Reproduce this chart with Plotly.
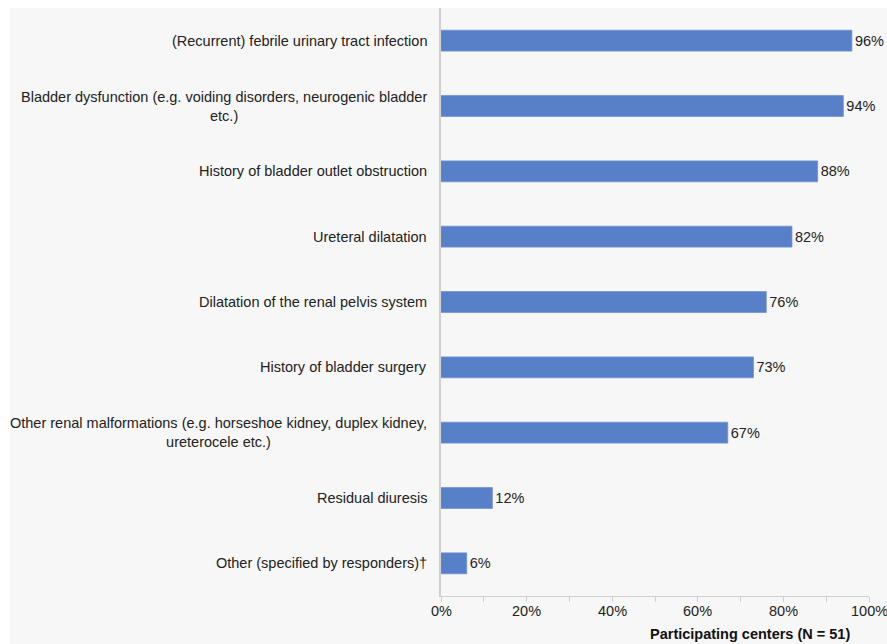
import plotly.graph_objects as go

categories = [
    "(Recurrent) febrile urinary tract infection",
    "Bladder dysfunction (e.g. voiding disorders, neurogenic bladder<br>etc.)",
    "History of bladder outlet obstruction",
    "Ureteral dilatation",
    "Dilatation of the renal pelvis system",
    "History of bladder surgery",
    "Other renal malformations (e.g. horseshoe kidney, duplex kidney,<br>ureterocele etc.)",
    "Residual diuresis",
    "Other (specified by responders)†",
]
values = [0.96, 0.94, 0.88, 0.82, 0.76, 0.73, 0.67, 0.12, 0.06]
value_labels = ["96%", "94%", "88%", "82%", "76%", "73%", "67%", "12%", "6%"]
tick_vals = [0, 0.2, 0.4, 0.6, 0.8, 1.0]
tick_text = ["0%", "20%", "40%", "60%", "80%", "100%"]
axis_title = "Participating centers (N = 51)"

W, H = 887, 644
L, R, T, B = 441, 18, 8, 48
pw, ph = W - L - R, H - T - B
FONT = "Liberation Sans, Arial"
FS = 14.5

fig = go.Figure()
fig.add_trace(go.Bar(
    y=categories[::-1], x=values[::-1], orientation="h",
    marker=dict(color="#5880c8", line=dict(color="#6f92d2", width=0.8)),
    width=0.32,
    text=value_labels[::-1], textposition="outside",
    textfont=dict(family=FONT, size=FS, color="#222"),
    cliponaxis=False,
))

# category labels (centered multiline, right-anchored)
for c in categories:
    fig.add_annotation(x=0, xref="x", xanchor="right", xshift=-12,
                       y=c, yref="y", yanchor="middle",
                       text=c, align="center", showarrow=False,
                       font=dict(family=FONT, size=FS, color="#222"))

# x tick labels as annotations (so the last one is not dropped)
for v, t in zip(tick_vals, tick_text):
    fig.add_annotation(x=v, xref="x", xanchor="center",
                       y=-(611 - T - ph) / ph - 0.0 if False else -(611 - (T + ph)) / ph,
                       yref="paper", yanchor="middle",
                       text=t, showarrow=False,
                       font=dict(family=FONT, size=FS, color="#222"))

# axis title, bold, right aligned
fig.add_annotation(x=(852 - L) / pw, xref="paper", xanchor="right",
                   y=-(634 - (T + ph)) / ph, yref="paper", yanchor="middle",
                   text="<b>" + axis_title + "</b>", showarrow=False,
                   font=dict(family=FONT, size=FS, color="#111"))

# grey panel behind whole chart
fig.add_shape(type="rect", xref="paper", yref="paper", layer="below",
              x0=(10 - L) / pw, x1=(W - L) / pw, y0=-(B) / ph, y1=1.0,
              fillcolor="#f7f7f7", line=dict(width=0))

fig.update_layout(
    width=W, height=H,
    margin=dict(l=L, r=R, t=T, b=B, autoexpand=False),
    paper_bgcolor="white", plot_bgcolor="#f7f7f7",
    showlegend=False,
    bargap=0.68,
    font=dict(family=FONT, size=FS, color="#222"),
    xaxis=dict(range=[0, 1], tickvals=tick_vals, showticklabels=False,
               automargin=False,
               showgrid=False, zeroline=False,
               showline=True, linecolor="#d0d0d0", linewidth=1,
               ticks="outside", ticklen=5, tickcolor="#d0d0d0",
               minor=dict(dtick=0.1, ticks="outside", ticklen=5, tickcolor="#d0d0d0")),
    yaxis=dict(showgrid=False, zeroline=False, showline=True,
               automargin=False, showticklabels=False,
               linecolor="#d0d0d0", linewidth=2, ticks=""),
)
fig.write_html("out.html")
